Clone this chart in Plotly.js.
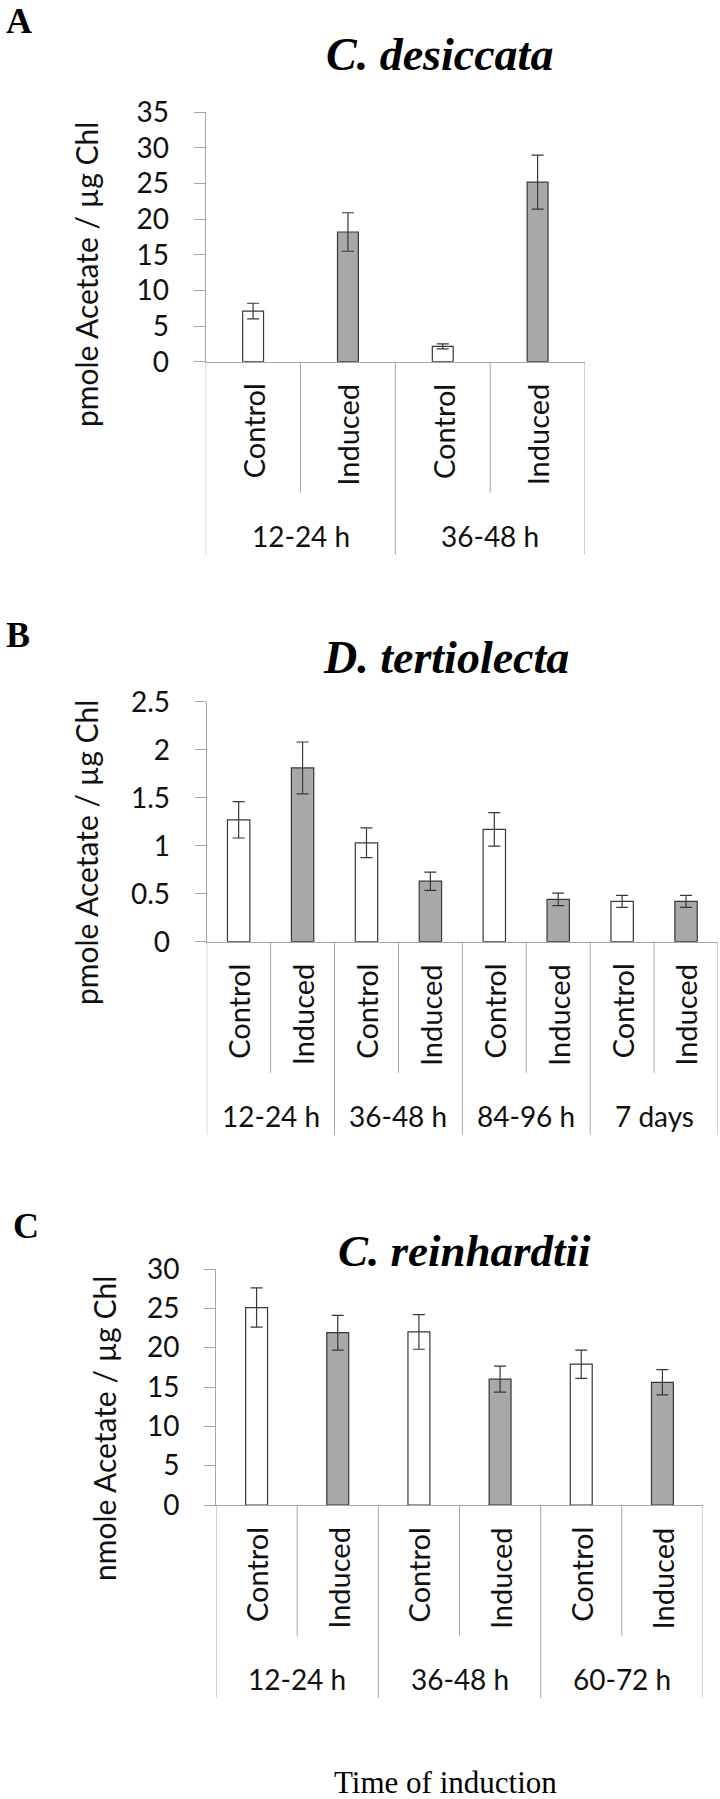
<!DOCTYPE html>
<html>
<head>
<meta charset="utf-8">
<script src="https://cdn.plot.ly/plotly-3.0.1.min.js"></script>
<style>html,body{margin:0;padding:0;background:#fff;}#chart{width:720px;height:1799px;}</style>
</head>
<body>
<div id="chart"></div>
<script>
// ---------- DATA ----------
const titleA = "C. desiccata";
const groupsA = ["12-24 h", "36-48 h"];
const condA = ["Control", "Induced", "Control", "Induced"];
const valuesA = [7.1, 18.2, 2.15, 25.2];
const errorsA = [1.1, 2.7, 0.35, 3.8];
const yTitleA = "pmole Acetate / µg Chl";

const titleB = "D. tertiolecta";
const groupsB = ["12-24 h", "36-48 h", "84-96 h", "7 days"];
const condB = ["Control", "Induced", "Control", "Induced", "Control", "Induced", "Control", "Induced"];
const valuesB = [1.27, 1.81, 1.03, 0.63, 1.17, 0.44, 0.42, 0.42];
const errorsB = [0.19, 0.27, 0.155, 0.095, 0.175, 0.065, 0.062, 0.062];
const yTitleB = "pmole Acetate / µg Chl";

const titleC = "C. reinhardtii";
const groupsC = ["12-24 h", "36-48 h", "60-72 h"];
const condC = ["Control", "Induced", "Control", "Induced", "Control", "Induced"];
const valuesC = [25.1, 21.9, 22.0, 16.0, 17.9, 15.6];
const errorsC = [2.5, 2.2, 2.2, 1.65, 1.8, 1.6];
const yTitleC = "nmole Acetate / µg Chl";

const xTitle = "Time of induction";

// ---------- LAYOUT (pixels) ----------
const W = 720, H = 1799;
const px = p => p / W;
const py = p => 1 - p / H;

const panels = [
  {letter: "A", title: titleA, ytitle: yTitleA, groups: groupsA, cond: condA, vals: valuesA, errs: errorsA,
   yMax: 35, dtick: 5, x0: 205.7, x1: 585, yTop: 112.3, yBot: 361.7, barW: 0.22,
   letterX: 6, letterY: 19, titleX: 439, titleY: 54, titleSize: 46, ytX: 86, ytY: 275},
  {letter: "B", title: titleB, ytitle: yTitleB, groups: groupsB, cond: condB, vals: valuesB, errs: errorsB,
   yMax: 2.5, dtick: 0.5, x0: 206.7, x1: 718, yTop: 701.7, yBot: 941.7, barW: 0.35,
   letterX: 6, letterY: 635, titleX: 446, titleY: 657, titleSize: 46, ytX: 86, ytY: 853},
  {letter: "C", title: titleC, ytitle: yTitleC, groups: groupsC, cond: condC, vals: valuesC, errs: errorsC,
   yMax: 30, dtick: 5, x0: 216, x1: 703, yTop: 1269, yBot: 1505, barW: 0.27,
   letterX: 13, letterY: 1226, titleX: 464, titleY: 1251, titleSize: 45, ytX: 104, ytY: 1428}
];

const AXIS_COLOR = "#a6a6a6";
const TEXT_COLOR = "#111111";
const SANS = "Lato, 'Open Sans', sans-serif";
const SERIF = "'Liberation Serif', 'DejaVu Serif', serif";

const traces = [];
const shapes = [];
const annotations = [];
const layout = {
  width: W, height: H,
  margin: {l: 0, r: 0, t: 0, b: 0},
  paper_bgcolor: "#ffffff", plot_bgcolor: "#ffffff",
  showlegend: false,
  font: {family: SANS, color: TEXT_COLOR},
  shapes: shapes, annotations: annotations
};

panels.forEach((p, i) => {
  const sfx = i === 0 ? "" : String(i + 1);
  const xa = "x" + sfx, ya = "y" + sfx;
  const n = p.vals.length;
  const xs = p.vals.map((_, k) => k);

  traces.push({
    type: "bar", x: xs, y: p.vals, xaxis: xa, yaxis: ya, width: p.barW,
    marker: {color: p.cond.map(c => c === "Control" ? "#ffffff" : "#a8a8aa"),
             line: {color: "#383838", width: 1.2}},
    error_y: {type: "data", array: p.errs, visible: true, color: "#383838", thickness: 1.2, width: 6},
    hoverinfo: "skip"
  });

  layout["xaxis" + sfx] = {
    domain: [px(p.x0), px(p.x1)], anchor: ya, range: [-0.5, n - 0.5],
    showline: true, linecolor: AXIS_COLOR, linewidth: 1, showgrid: false, zeroline: false,
    ticks: "", showticklabels: false, fixedrange: true
  };
  layout["yaxis" + sfx] = {
    domain: [py(p.yBot), py(p.yTop)], anchor: xa, range: [0, p.yMax], dtick: p.dtick, tick0: 0,
    showline: true, linecolor: AXIS_COLOR, linewidth: 1, showgrid: false, zeroline: false,
    ticks: "outside", ticklen: 11, tickcolor: AXIS_COLOR, tickwidth: 1,
    ticklabelstandoff: 19,
    tickfont: {family: SANS, size: 28, color: TEXT_COLOR}, fixedrange: true
  };

  // category separators
  for (let k = 0; k <= n; k++) {
    const outer = k % 2 === 0;
    shapes.push({type: "line", xref: xa, yref: "paper", x0: k - 0.5, x1: k - 0.5,
      y0: py(p.yBot), y1: py(p.yBot + (outer ? 193 : 131)),
      line: {color: AXIS_COLOR, width: 1}});
  }
  // condition labels
  p.cond.forEach((c, k) => {
    annotations.push({text: c, xref: xa, yref: "paper", x: k, y: py(p.yBot + 20),
      xanchor: "center", yanchor: "top", textangle: -90, showarrow: false,
      font: {family: SANS, size: 29, color: TEXT_COLOR}});
  });
  // group labels
  p.groups.forEach((g, k) => {
    annotations.push({text: g, xref: xa, yref: "paper", x: 2 * k + 0.5, y: py(p.yBot + 174),
      xanchor: "center", yanchor: "middle", showarrow: false,
      font: {family: SANS, size: 28, color: TEXT_COLOR}});
  });
  // panel title
  annotations.push({text: "<b><i>" + p.title + "</i></b>", xref: "paper", yref: "paper",
    x: px(p.titleX), y: py(p.titleY), xanchor: "center", yanchor: "middle", showarrow: false,
    font: {family: SERIF, size: p.titleSize, color: "#000"}});
  // panel letter
  annotations.push({text: "<b>" + p.letter + "</b>", xref: "paper", yref: "paper",
    x: px(p.letterX), y: py(Math.max(p.letterY, 21)), xanchor: "left", yanchor: "middle", showarrow: false,
    borderpad: 0, borderwidth: 0,
    font: {family: SERIF, size: 36, color: "#000"}});
  // y-axis title
  annotations.push({text: p.ytitle, xref: "paper", yref: "paper",
    x: px(p.ytX), y: py(p.ytY), xanchor: "center", yanchor: "middle", textangle: -90, showarrow: false,
    font: {family: SANS, size: 30, color: TEXT_COLOR}});
});

annotations.push({text: xTitle, xref: "paper", yref: "paper", x: px(445), y: py(1782),
  xanchor: "center", yanchor: "middle", showarrow: false,
  font: {family: SERIF, size: 31, color: "#000"}});

Plotly.newPlot("chart", traces, layout, {displayModeBar: false, staticPlot: true});
</script>
</body>
</html>
